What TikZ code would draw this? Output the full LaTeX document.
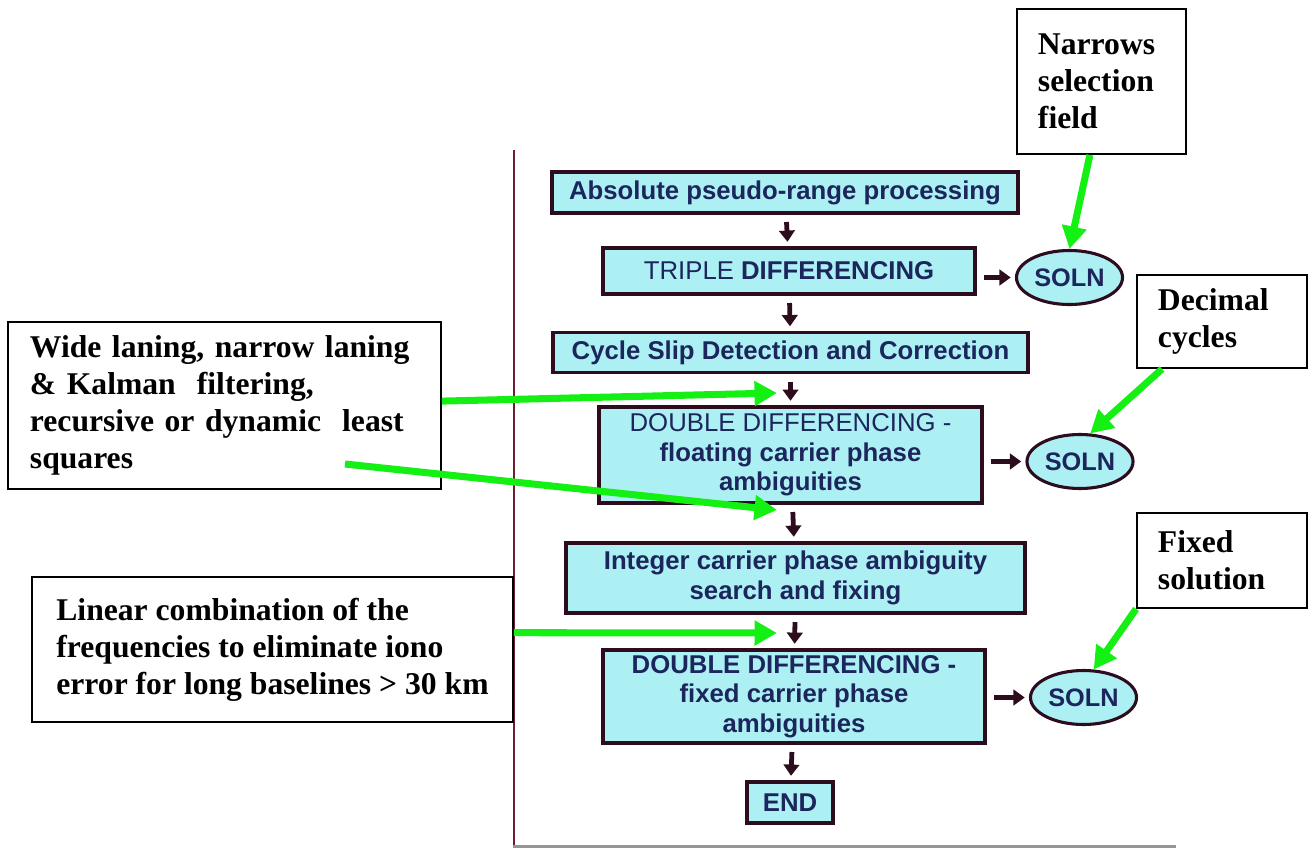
\documentclass[tikz,border=0pt]{standalone}
\usepackage{fontspec}
\setmainfont{Liberation Serif}
\newfontfamily\flowfont{Liberation Sans}
\usetikzlibrary{arrows.meta, shapes.geometric}

\definecolor{boxfill}{RGB}{172,240,244}
\definecolor{boxline}{RGB}{45,12,30}
\definecolor{boxtext}{RGB}{28,38,92}
\definecolor{notegreen}{RGB}{20,240,20}
\definecolor{panelline}{RGB}{110,30,50}
\definecolor{panelgray}{RGB}{150,150,150}

\begin{document}
\begin{tikzpicture}[x=0.025cm, y=-0.025cm,
    flowbox/.style={draw=boxline, line width=2.8pt, fill=boxfill, text=boxtext, align=center, inner sep=0pt, font=\flowfont\bfseries\fontsize{18.3}{21}\selectfont},
    solnbox/.style={ellipse, draw=boxline, line width=2.2pt, fill=boxfill, text=boxtext, minimum width=2.65cm, minimum height=1.35cm, inner sep=0pt, font=\flowfont\bfseries\fontsize{18}{21}\selectfont},
    notebox/.style={draw=black, line width=1.3pt, fill=white, align=left, inner ysep=0pt, font=\bfseries\fontsize{22.5}{26.3}\selectfont},
    flowarrow/.style={draw=boxline, line width=3.4pt, -{Triangle[length=8pt, width=11pt]}, shorten <=5pt, shorten >=3pt},
    greenarrow/.style={draw=notegreen, line width=5pt, -{Triangle[length=16pt, width=17pt]}}]

    \useasboundingbox (0,0) rectangle (1308,848);

    % Frame of the flow chart
    \draw[panelline, line width=1.5pt] (514,150) -- (514,848);
    \draw[panelgray, line width=1.5pt] (513,846.5) -- (1176,846.5);

    % Flow chart boxes
    \node (abs) at (785,192.5) [flowbox, minimum width=11.65cm, minimum height=1.025cm] {Absolute pseudo-range processing};
    \node (triple) at (789,271) [flowbox, minimum width=9.3cm, minimum height=1.15cm] {{\mdseries TRIPLE} DIFFERENCING};
    \node (slip) at (790.5,352.5) [flowbox, minimum width=11.875cm, minimum height=1cm] {Cycle Slip Detection and Correction};
    \node (dd_float) at (790.5,455) [flowbox, minimum width=9.575cm, minimum height=2.4cm] {{\mdseries DOUBLE DIFFERENCING -}\\ floating carrier phase\\ ambiguities};
    \node (integer) at (795.5,578) [flowbox, minimum width=11.475cm, minimum height=1.75cm] {Integer carrier phase ambiguity\\ search and fixing};
    \node (dd_fixed) at (794,696.5) [flowbox, minimum width=9.55cm, minimum height=2.325cm] {DOUBLE DIFFERENCING -\\ fixed carrier phase\\ ambiguities};
    \node (end) at (790,802.5) [flowbox, minimum width=2.15cm, minimum height=1.025cm] {END};

    % Solutions
    \node (soln1) at (1069.5,277.5) [solnbox] {SOLN};
    \node (soln2) at (1080,461.5) [solnbox] {SOLN};
    \node (soln3) at (1083.5,697.5) [solnbox] {SOLN};

    % Notes
    \node (narrows) at (1101.5,81.5) [notebox, minimum width=4.225cm, minimum height=3.625cm, inner xsep=0.525cm, text width=3.175cm] {Narrows\\ selection\\ field};
    \node (decimal) at (1222,321.5) [notebox, minimum width=4.25cm, minimum height=2.325cm, inner xsep=0.525cm, text width=3.2cm] {Decimal\\ cycles};
    \node (fixed) at (1222,560.5) [notebox, minimum width=4.25cm, minimum height=2.375cm, inner xsep=0.525cm, text width=3.2cm] {Fixed\\ solution};
    \node (wide) at (224.5,405.5) [notebox, minimum width=10.825cm, minimum height=4.175cm, inner xsep=0.55cm, text width=9.725cm] {Wide laning, narrow laning\\ \& Kalman\ \ filtering,\\ recursive or dynamic\ \ least\\ squares};
    \node (linear) at (272.5,649.5) [notebox, minimum width=12.025cm, minimum height=3.625cm] {Linear combination of the\\ frequencies to eliminate iono\\ error for long baselines > 30 km};

    % Flow arrows
    \draw[flowarrow] (abs) -- (triple);
    \draw[flowarrow] (triple) -- (slip);
    \draw[flowarrow] (slip) -- (dd_float);
    \draw[flowarrow] (dd_float) -- (integer);
    \draw[flowarrow] (integer) -- (dd_fixed);
    \draw[flowarrow] (dd_fixed) -- (end);
    \draw[flowarrow] (triple.east |- soln1) -- (soln1);
    \draw[flowarrow] (dd_float.east |- soln2) -- (soln2);
    \draw[flowarrow] (dd_fixed.east |- soln3) -- (soln3);

    % Green pointers
    \coordinate (tip_slip) at (777,393);
    \coordinate (tip_float) at (777,510);
    \coordinate (tip_integer) at (777,633);
    \coordinate (wide_tail) at (345,464);
    \draw[greenarrow] ([yshift=0.11cm]wide.east) -- (tip_slip);
    \draw[greenarrow] (wide_tail) -- (tip_float);
    \draw[greenarrow] ([yshift=0.42cm]linear.east) -- (tip_integer);
    \draw[greenarrow] ([xshift=-0.29cm]narrows.south) -- (soln1.north);
    \draw[greenarrow] ([xshift=0.65cm]decimal.south west) -- (soln2.70);
    \draw[greenarrow] (fixed.south west) -- (soln3.70);

\end{tikzpicture}
\end{document}
